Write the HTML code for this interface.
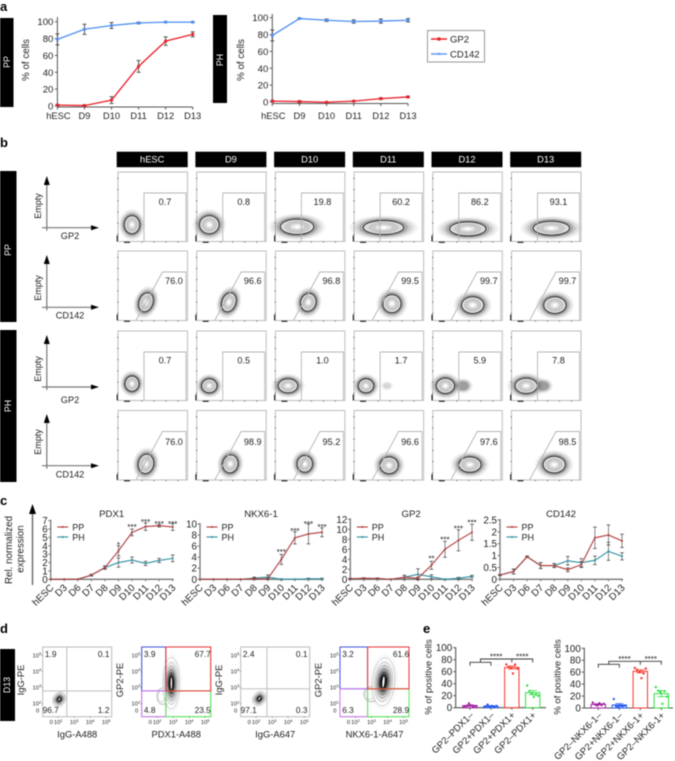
<!DOCTYPE html>
<html lang="en">
<head>
<meta charset="utf-8">
<title>Differentiation figure</title>
<style>
html,body{margin:0;padding:0;background:#fff}
body{width:675px;height:761px;overflow:hidden}
svg{display:block;font-family:"Liberation Sans",sans-serif;filter:blur(.4px)}
text{fill:#222}
.letter{font-weight:bold;font-size:13px;fill:#000}
.bar-text{fill:#fff;font-size:8.8px;text-anchor:middle}
</style>
</head>
<body>
<svg id="fig" width="675" height="761" viewBox="0 0 675 761" xmlns="http://www.w3.org/2000/svg">
<defs>
<radialGradient id="haloFill" cx="50%" cy="50%" r="50%">
<stop offset="0.5" stop-color="#666" stop-opacity="0.75"/>
<stop offset="0.72" stop-color="#888" stop-opacity="0.38"/>
<stop offset="1" stop-color="#aaa" stop-opacity="0"/>
</radialGradient>
</defs>
<rect x="0" y="0" width="675" height="761" fill="#fff"/>
<text class="letter" x="0" y="11">a</text>
<text class="letter" x="0" y="147">b</text>
<text class="letter" x="0" y="505">c</text>
<text class="letter" x="0" y="633">d</text>
<text class="letter" x="423" y="633">e</text>

<g>
<rect x="0" y="18" width="13.5" height="89" fill="#000"/>
<text class="bar-text" transform="translate(10,62) rotate(-90)">PP</text>
<rect x="213" y="15" width="14" height="88" fill="#000"/>
<text class="bar-text" transform="translate(223,60) rotate(-90)">PH</text>
</g>

<g>
<rect x="427.5" y="30.5" width="57" height="31.5" fill="#fff" stroke="#999" stroke-width="1"/>
<line x1="431" y1="39" x2="447" y2="39" stroke="#e8212a" stroke-width="1.5"/>
<circle cx="439" cy="39" r="1.8" fill="#e8212a"/>
<text x="450" y="42.5" font-size="9.5">GP2</text>
<line x1="431" y1="54" x2="447" y2="54" stroke="#4f8ef0" stroke-width="1.3"/>
<text x="439" y="56" font-size="6" text-anchor="middle" style="fill:#4f8ef0">×</text>
<text x="450" y="57.5" font-size="9.5">CD142</text>
</g>

<g>
<rect x="0" y="171" width="16.5" height="151" fill="#000"/>
<text class="bar-text" transform="translate(11,250) rotate(-90)">PP</text>
<rect x="0" y="330" width="16.5" height="152" fill="#000"/>
<text class="bar-text" transform="translate(11,406) rotate(-90)">PH</text>
</g>

<g>
<text transform="translate(12,550) rotate(-90)" font-size="9.8" text-anchor="middle">Rel. normalized</text>
<text transform="translate(23.5,549) rotate(-90)" font-size="9.8" text-anchor="middle">expression</text>
<line x1="32.5" y1="510" x2="32.5" y2="585" stroke="#666" stroke-width="1.4"/>
<polygon points="32.5,504 29,514 36,514" fill="#000"/>
</g>

<g>
<rect x="0" y="649" width="15" height="72" fill="#000"/>
<text class="bar-text" transform="translate(10,685) rotate(-90)">D13</text>
</g>
</svg>

<script>
// ---------- panel a data ----------
var aDays = ['hESC', 'D9', 'D10', 'D11', 'D12', 'D13'];
var aTicks = [0, 20, 40, 60, 80, 100];
var aPpGp2 = [1, 0.5, 7, 47, 77, 85];
var aPpGp2Err = [1, 1, 4, 7, 5, 3];
var aPpCd142 = [79, 91, 95.5, 98.5, 99.5, 99.5];
var aPpCd142Err = [6.5, 6, 3.5, 1, 0.5, 0.5];
var aPhGp2 = [1, 0.5, -0.3, 1, 4, 6];
var aPhGp2Err = [1, 1, 0.5, 0.5, 1, 1];
var aPhCd142 = [79, 99, 97, 95.5, 96, 97];
var aPhCd142Err = [6.5, 0.5, 1.5, 2, 2.5, 2];

// ---------- panel b data (axis percent of the flow plot) ----------
var flowColumns = ['hESC', 'D9', 'D10', 'D11', 'D12', 'D13'];
var flowRowNames = ['pp-gp2', 'pp-cd142', 'ph-gp2', 'ph-cd142'];
var flowPercent = [
  ['0.7', '0.8', '19.8', '60.2', '86.2', '93.1'],
  ['76.0', '96.6', '96.8', '99.5', '99.7', '99.7'],
  ['0.7', '0.5', '1.0', '1.7', '5.9', '7.8'],
  ['76.0', '98.9', '95.2', '96.6', '97.6', '98.5']
];
var flowCenterX = [
  [20, 18, 31, 42, 50, 57],
  [40, 46, 47, 54, 57, 62],
  [20, 18, 18, 17, 18, 21],
  [40, 48, 42, 50, 53, 61]
];
var flowCenterY = [
  [24, 24, 21, 20, 18, 19],
  [26, 26, 26, 24, 22, 22],
  [24, 21, 21, 21, 21, 21],
  [23, 23, 23, 21, 22, 22]
];
var flowSpreadX = [
  [11, 14, 24, 29, 26, 26],
  [10, 10, 11, 13, 16, 16],
  [10, 11, 14, 11, 13, 16],
  [11, 11, 11, 13, 16, 16]
];
var flowSpreadY = [
  [13, 13, 11, 10, 10, 10],
  [14, 14, 13, 13, 12, 12],
  [11, 10, 10, 10, 11, 11],
  [14, 13, 12, 12, 11, 12]
];
var flowTilt = [
  [0, 0, 0, 0, 0, 0],
  [20, 20, 15, 0, 0, 0],
  [0, 0, 0, 0, 0, 0],
  [10, 10, 0, 0, 0, 0]
];
var flowTailX = [0, 0, 0, 47, 43, 45];

// ---------- panel c data ----------
var cDays = ['hESC', 'D3', 'D6', 'D7', 'D8', 'D9', 'D10', 'D11', 'D12', 'D13'];
var pdx1Ticks = [0, 1, 2, 3, 4, 5, 6, 7];
var pdx1PP = [0, 0, 0, 0.5, 1.4, 3.4, 5.6, 6.3, 6.4, 6.25];
var pdx1PPErr = [0, 0, 0, 0.1, 0.2, 0.6, 0.4, 0.45, 0.15, 0.4];
var pdx1PH = [0, 0, 0, 0.5, 1.4, 2, 2.3, 1.9, 2.25, 2.5];
var pdx1PHErr = [0, 0, 0, 0.1, 0.15, 0.55, 0.35, 0.25, 0.25, 0.4];
var pdx1Stars = ['', '', '', '', '', '*', '***', '***', '***', '***'];
var pdx1StarLevel = [0, 0, 0, 0, 0, 4.3, 6.4, 7, 6.8, 6.8];
var nkxTicks = [0, 2, 4, 6, 8, 10];
var nkxPP = [0, 0, 0, 0, 0.1, 0.1, 3.6, 7.5, 8.2, 8.5];
var nkxPPErr = [0, 0, 0, 0, 0.1, 0.1, 0.9, 1.1, 1.8, 0.8];
var nkxPH = [0, 0, 0, 0, 0.2, 0.4, 0, 0, 0.1, 0.1];
var nkxPHErr = [0, 0, 0, 0, 0.2, 0.4, 0.1, 0.05, 0.1, 0.1];
var nkxStars = ['', '', '', '', '', '', '***', '***', '***', '***'];
var nkxStarLevel = [0, 0, 0, 0, 0, 0, 5.2, 9, 10.3, 9.7];
var gp2Ticks = [0, 2, 4, 6, 8, 10, 12];
var gp2PP = [0.1, 0.2, 0.15, 0, 0.4, 0.2, 2.8, 6, 7.8, 9.4];
var gp2PPErr = [0.1, 0.1, 0.1, 0, 0.4, 0.2, 0.8, 1.6, 2.1, 1.6];
var gp2PH = [0.1, 0.2, 0.15, 0, 0.4, 1, 0.5, 0, 0.2, 0.6];
var gp2PHErr = [0.1, 0.1, 0.1, 0, 0.4, 1.1, 0.4, 0.1, 0.2, 0.2];
var gp2Stars = ['', '', '', '', '', '', '**', '***', '***', '***'];
var gp2StarLevel = [0, 0, 0, 0, 0, 0, 4.5, 8.3, 10.5, 11.7];
var cd142Ticks = [0, 0.5, 1, 1.5, 2, 2.5];
var cd142PP = [0.18, 0.33, 0.95, 0.58, 0.58, 0.4, 0.62, 1.75, 1.87, 1.62];
var cd142PPErr = [0.02, 0.1, 0.03, 0.12, 0.08, 0.08, 0.12, 0.45, 0.42, 0.28];
var cd142PH = [0.18, 0.33, 0.95, 0.58, 0.58, 0.78, 0.7, 0.8, 1.18, 0.97];
var cd142PHErr = [0.02, 0.1, 0.03, 0.12, 0.08, 0.18, 0.17, 0.18, 0.38, 0.15];

// ---------- panel d data ----------
var dXTitles = ['IgG-A488', 'PDX1-A488', 'IgG-A647', 'NKX6-1-A647'];
var dYTitles = ['IgG-PE', 'GP2-PE', 'IgG-PE', 'GP2-PE'];
var dUpperLeft = ['1.9', '3.9', '2.4', '3.2'];
var dUpperRight = ['0.1', '67.7', '0.1', '61.6'];
var dLowerLeft = ['96.7', '4.8', '97.1', '6.3'];
var dLowerRight = ['1.2', '23.5', '0.3', '28.9'];
var dGateX = [35, 35, 38, 40];
var dGateY = [37, 37, 40, 40];
var dCloudX = [24, 43, 27, 63];
var dCloudY = [25, 48, 26, 50];
var dCloudSpreadX = [8, 11, 8, 15];
var dCloudSpreadY = [10, 34, 10, 32];
var dCloudTilt = [30, 0, 35, 5];
var dColoured = [false, true, false, true];
var dExponents = ['2', '3', '4', '5'];

// ---------- panel e data ----------
var pdxGroups = ['GP2–PDX1–', 'GP2+PDX1–', 'GP2+PDX1+', 'GP2–PDX1+'];
var nkxGroups = ['GP2–NKX6-1–', 'GP2+NKX6-1–', 'GP2+NKX6-1+', 'GP2–NKX6-1+'];
var groupColours = ['#a020a0', '#2255ee', '#f5362e', '#33dd44'];
var pctTicks = [0, 20, 40, 60, 80, 100];
var pdxMeans = [3.5, 2.5, 67, 25];
var pdxErrs = [1, 0.7, 2.5, 3.5];
var pdxDots = [[2, 3, 7, 4, 2, 3], [2, 5, 2, 3, 1, 3], [72, 68, 66, 57, 72, 65], [37, 28, 24, 18, 22, 20]];
var nkxMeans = [6, 5, 61.5, 24];
var nkxErrs = [1, 2.3, 2.5, 5];
var nkxDots = [[9, 6, 4, 8, 5, 7], [15, 3, 2, 4, 3, 4], [67, 64, 60, 50, 58, 66], [35, 29, 27, 7, 28, 19]];

// ---------- helpers ----------
var NS = 'http://www.w3.org/2000/svg';
var root = document.getElementById('fig');
function add(parent, tag, attrs, name, txt) {
  var el = document.createElementNS(NS, tag);
  for (var k in attrs) { el.setAttribute(k, attrs[k]); }
  
  
  if (txt !== undefined) { el.textContent = txt; }
  parent.appendChild(el);
  return el;
}
function line(p, x1, y1, x2, y2, col, w, name) {
  return add(p, 'line', {x1: x1, y1: y1, x2: x2, y2: y2, stroke: col, 'stroke-width': w}, name);
}
function text(p, x, y, s, size, anchor, name, extra) {
  var a = {x: x, y: y, 'font-size': size, 'text-anchor': anchor || 'start'};
  if (extra) { for (var k in extra) { a[k] = extra[k]; } }
  return add(p, 'text', a, name, s);
}
function group(p, name) { return add(p, 'g', {}, name); }
function linearScale(d0, d1, r0, r1) {
  return function (v) { return r0 + (v - d0) / (d1 - d0) * (r1 - r0); };
}
function slug(s) { return String(s).toLowerCase().replace(/[^a-z0-9]+/g, '-'); }

// ---------- panel a ----------
function drawLinePanel(name, x0, x1, y100, y0, axisTop, axisBottom, titleX, gp2, gp2Err, cd, cdErr) {
  var g = group(root, name);
  var sx = linearScale(0, aDays.length - 1, x0, x1);
  var sy = linearScale(0, 100, y0, y100);
  line(g, x0, axisTop, x0, axisBottom, '#555', 1, 'y-axis');
  line(g, x0, axisBottom, x1, axisBottom, '#555', 1, 'x-axis');
  aTicks.forEach(function (t) {
    line(g, x0 - 2.5, sy(t), x0, sy(t), '#555', 1, 'y-tick');
    text(g, x0 - 4, sy(t) + 3.5, t, 9.6, 'end', 'y-tick-label-' + t);
  });
  aDays.forEach(function (d, i) {
    line(g, sx(i), axisBottom, sx(i), axisBottom + 2.5, '#555', 1, 'x-tick');
    text(g, sx(i) + (i === 0 ? 1 : 0), 119, d, 9.3, 'middle', 'x-tick-label-' + slug(d));
  });
  text(g, 0, 0, '% of cells', 9.8, 'middle', 'y-axis-title', {transform: 'translate(' + titleX + ',60) rotate(-90)'});
  [[cd, cdErr, '#4f8ef0', 'cd142'], [gp2, gp2Err, '#e8212a', 'gp2']].forEach(function (s) {
    var sg = group(g, 'series-' + s[3]);
    s[0].forEach(function (v, i) {
      var h = s[1][i];
      line(sg, sx(i), sy(v - h), sx(i), sy(v + h), '#333', 0.8, 'error-bar');
      line(sg, sx(i) - 2, sy(v - h), sx(i) + 2, sy(v - h), '#333', 0.8, 'error-cap');
      line(sg, sx(i) - 2, sy(v + h), sx(i) + 2, sy(v + h), '#333', 0.8, 'error-cap');
    });
    var pts = s[0].map(function (v, i) { return sx(i) + ',' + sy(v); }).join(' ');
    add(sg, 'polyline', {points: pts, fill: 'none', stroke: s[2], 'stroke-width': 1.3}, 'series-line');
    s[0].forEach(function (v, i) {
      add(sg, 'circle', {cx: sx(i), cy: sy(v), r: 1.6, fill: s[2]}, 'point-' + slug(aDays[i]));
    });
  });
}
drawLinePanel('pp-cell-chart', 57.4, 192.7, 21.7, 106, 17, 107, 29, aPpGp2, aPpGp2Err, aPpCd142, aPpCd142Err);
drawLinePanel('ph-cell-chart', 272.3, 408, 17.7, 102, 14, 103.5, 244, aPhGp2, aPhGp2Err, aPhCd142, aPhCd142Err);

// ---------- panel b ----------
var panelW = 69.5;
var colStart = 118, colStep = 78.7;
var rowTop = [172, 251, 331, 410.5];
var panelH = 69.5;

function stack(g, cx, cy, rx, ry, tilt) {
  var tf = 'rotate(' + tilt + ' ' + cx + ' ' + cy + ')';
  function e(f, fill, stroke, w, dash, op, nm) {
    var a = {cx: cx, cy: cy, rx: rx * f, ry: ry * f, fill: fill, stroke: stroke, 'stroke-width': w, transform: tf};
    if (dash) { a['stroke-dasharray'] = dash; }
    if (op) { a.opacity = op; }
    return add(g, 'ellipse', a, nm);
  }
  e(1.75, 'url(#haloFill)', 'none', 0, null, null, 'scatter-cloud');
  e(1.62, 'none', '#555', 0.4, '0.4 2.1', 0.45, 'scatter-halo');
  e(1.45, 'none', '#444', 0.45, '0.45 1.5', 0.6, 'scatter-halo');
  e(1.3, 'none', '#333', 0.5, '0.5 1.1', 0.8, 'scatter-halo');
  e(1.16, 'none', '#222', 0.6, '0.6 0.8', 0.9, 'scatter-halo');
  e(1, '#dcdcdc', '#2c2c2c', 1, null, null, 'outer-contour');
  e(0.72, '#cacaca', '#ababab', 0.4, null, null, 'mid-contour');
  e(0.42, '#e6e6e6', '#bbb', 0.3, null, null, 'inner-contour');
  e(0.18, '#fff', 'none', 0, null, null, 'core-contour');
}
flowColumns.forEach(function (c, i) {
  var hx = colStart - 1.3 + i * colStep;
  add(root, 'rect', {x: hx, y: 151.7, width: 71, height: 15.5, fill: '#000'}, 'column-header-' + slug(c));
  text(root, hx + 35.5, 162.7, c, 9.3, 'middle', 'column-header-label-' + slug(c), {style: 'fill:#fff'});
});
flowRowNames.forEach(function (rowName, r) {
  var y0 = rowTop[r];
  var rowG = group(root, 'flow-row-' + rowName);
  flowColumns.forEach(function (c, i) {
    var x0 = colStart + i * colStep;
    var sx = linearScale(0, 100, x0, x0 + 70);
    var sy = linearScale(0, 100, y0 + panelH, y0 - 0.5);
    var g = group(rowG, 'flow-plot-' + rowName + '-' + slug(c));
    add(g, 'rect', {x: x0, y: y0, width: panelW, height: panelH, fill: '#fff', stroke: '#bdbdbd', 'stroke-width': 1}, 'plot-frame');
    for (var t = 1; t <= 6; t++) {
      line(g, x0 - 0.8, y0 + panelH - t * 11.2 + 4, x0 + 0.5, y0 + panelH - t * 11.2 + 4, '#333', 0.6, 'y-tick');
    }
    line(g, x0 - 0.8, y0 + panelH - 6, x0 - 0.8, y0 + panelH, '#000', 1, 'y-tick-dense');
    line(g, x0 + 6, y0 + panelH + 0.8, x0 + 12, y0 + panelH + 0.8, '#000', 1, 'x-tick-dense');
    for (var u = 1; u <= 4; u++) {
      line(g, x0 + 12 + u * 12, y0 + panelH, x0 + 12 + u * 12, y0 + panelH + 1.3, '#333', 0.6, 'x-tick');
    }
    if (r === 2 && flowTailX[i] > 0) {
      var tailR = i === 3 ? 5 : 8;
      add(g, 'ellipse', {cx: sx(flowTailX[i]), cy: sy(flowCenterY[r][i]), rx: tailR * 1.3, ry: tailR, fill: 'url(#haloFill)', opacity: i === 3 ? 0.35 : 0.85}, 'scatter-tail');
    }
    stack(g, sx(flowCenterX[r][i]), sy(flowCenterY[r][i]), flowSpreadX[r][i] * 0.7, flowSpreadY[r][i] * 0.7, flowTilt[r][i]);
    var bottom = y0 + panelH, top = y0 + 21, right = x0 + 68, pts;
    if (r % 2 === 0) {
      pts = (x0 + 26) + ',' + bottom + ' ' + (x0 + 26) + ',' + top + ' ' + right + ',' + top + ' ' + right + ',' + bottom;
    } else {
      pts = (x0 + 18) + ',' + bottom + ' ' + (x0 + 44.5) + ',' + top + ' ' + right + ',' + top + ' ' + right + ',' + bottom;
    }
    add(g, 'polyline', {points: pts, fill: 'none', stroke: '#b5b5b5', 'stroke-width': 0.9}, 'gate');
    var lx = r % 2 === 0 ? 47 : 56;
    var ly = [33, 33, 32.5, 34.5][r];
    text(g, x0 + lx, y0 + ly, flowPercent[r][i], 9.1, 'middle', 'gate-percent');
  });
});
// schematic axes
var schemaTips = [176, 255, 335, 414];
var schemaH = [227.7, 307.3, 387, 465.7];
var schemaEmpty = [206, 288, 369, 442];
var schemaLabelY = [239, 318.5, 403, 477.5];
var schemaLabels = ['GP2', 'CD142', 'GP2', 'CD142'];
schemaLabels.forEach(function (lab, i) {
  var g = group(root, 'schematic-axes-' + flowRowNames[i]);
  line(g, 46.8, schemaTips[i] + 5, 46.8, schemaH[i] + 3, '#777', 1.2, 'schematic-y-axis');
  line(g, 42, schemaH[i], 93, schemaH[i], '#777', 1.2, 'schematic-x-axis');
  add(g, 'polygon', {points: '46.8,' + schemaTips[i] + ' 43.8,' + (schemaTips[i] + 9) + ' 49.8,' + (schemaTips[i] + 9), fill: '#000'}, 'schematic-y-arrow');
  add(g, 'polygon', {points: '99,' + schemaH[i] + ' 91,' + (schemaH[i] - 2.5) + ' 91,' + (schemaH[i] + 2.5), fill: '#000'}, 'schematic-x-arrow');
  text(g, 0, 0, 'Empty', 9, 'middle', 'schematic-y-label', {transform: 'translate(41,' + schemaEmpty[i] + ') rotate(-90)'});
  text(g, 70, schemaLabelY[i], lab, 9.2, 'middle', 'schematic-x-label');
});

// ---------- panel c ----------
function drawExpression(name, title, x0, x1, yTopVal, yTopPx, ticks, pp, ppErr, ph, phErr, stars, starLevel) {
  var g = group(root, name);
  var baseY = 579.3;
  var sx = linearScale(0, cDays.length - 1, x0, x1);
  var sy = linearScale(0, yTopVal, baseY, yTopPx);
  line(g, x0, yTopPx - 1, x0, baseY + 1, '#777', 1.3, 'y-axis');
  line(g, x0, baseY, x1 + 1, baseY, '#777', 1.3, 'x-axis');
  ticks.forEach(function (t) {
    line(g, x0 - 2.5, sy(t), x0, sy(t), '#777', 1, 'y-tick');
    text(g, x0 - 3, sy(t) + 3.5, t, 9.8, 'end', 'y-tick-label-' + slug(t));
  });
  cDays.forEach(function (d, i) {
    line(g, sx(i), baseY, sx(i), baseY + 2, '#777', 1, 'x-tick');
    text(g, 0, 0, d, 9.8, 'end', 'x-tick-label-' + slug(d), {transform: 'translate(' + (sx(i) + 3.5) + ',' + (baseY + 9) + ') rotate(-45)'});
  });
  text(g, (x0 + x1) / 2, 517, title, 9.6, 'middle', 'chart-title');
  [[ph, phErr, '#2e8fa0', 'ph'], [pp, ppErr, '#b03a3a', 'pp']].forEach(function (s) {
    var sg = group(g, 'series-' + s[3]);
    s[0].forEach(function (v, i) {
      var h = s[1][i];
      if (h <= 0) { return; }
      line(sg, sx(i), sy(v - h), sx(i), sy(v + h), '#666', 0.8, 'error-bar');
      line(sg, sx(i) - 1.8, sy(v - h), sx(i) + 1.8, sy(v - h), '#333', 0.7, 'error-cap');
      line(sg, sx(i) - 1.8, sy(v + h), sx(i) + 1.8, sy(v + h), '#333', 0.7, 'error-cap');
    });
    var pts = s[0].map(function (v, i) { return sx(i) + ',' + sy(v); }).join(' ');
    add(sg, 'polyline', {points: pts, fill: 'none', stroke: s[2], 'stroke-width': 1.1}, 'series-line');
    s[0].forEach(function (v, i) {
      add(sg, 'circle', {cx: sx(i), cy: sy(v), r: 1, fill: s[2]}, 'point-' + slug(cDays[i]));
    });
  });
  stars.forEach(function (st, i) {
    if (st) { text(g, sx(i), sy(starLevel[i]) + 4.5, st, 8, 'middle', 'significance-' + slug(cDays[i])); }
  });
  var lg = group(g, 'legend');
  var lx = x0 + 6.5;
  line(lg, lx, 527, lx + 11, 527, '#b03a3a', 1.1, 'legend-pp-line');
  add(lg, 'circle', {cx: lx + 5.5, cy: 527, r: 1, fill: '#b03a3a'}, 'legend-pp-marker');
  text(lg, lx + 15, 530.3, 'PP', 9, 'start', 'legend-pp-label');
  line(lg, lx, 537, lx + 11, 537, '#2e8fa0', 1.1, 'legend-ph-line');
  add(lg, 'circle', {cx: lx + 5.5, cy: 537, r: 1, fill: '#2e8fa0'}, 'legend-ph-marker');
  text(lg, lx + 15, 540.3, 'PH', 9, 'start', 'legend-ph-label');
}
drawExpression('pdx1-chart', 'PDX1', 50.7, 172.7, 7, 520.7, pdx1Ticks, pdx1PP, pdx1PPErr, pdx1PH, pdx1PHErr, pdx1Stars, pdx1StarLevel);
drawExpression('nkx6-1-chart', 'NKX6-1', 200, 322, 10, 524, nkxTicks, nkxPP, nkxPPErr, nkxPH, nkxPHErr, nkxStars, nkxStarLevel);
drawExpression('gp2-chart', 'GP2', 350.3, 472, 12, 519.3, gp2Ticks, gp2PP, gp2PPErr, gp2PH, gp2PHErr, gp2Stars, gp2StarLevel);
drawExpression('cd142-chart', 'CD142', 500, 622, 2.5, 520, cd142Ticks, cd142PP, cd142PPErr, cd142PH, cd142PHErr, [], []);

// ---------- panel d ----------
var dLeft = [42.7, 141.7, 240.7, 340];
var dTop = 647, dW = 69, dH = 69.7;
function supLabel(p, x, y, exp, anchor, name) {
  var t = text(p, x, y, '10', 5.8, anchor, name);
  add(t, 'tspan', {dy: -2.4, 'font-size': 4}, 'tick-exponent', exp);
  return t;
}
dXTitles.forEach(function (title, i) {
  var g = group(root, 'flow-quadrant-' + slug(title));
  var x0 = dLeft[i];
  var sx = linearScale(0, 100, x0, x0 + dW);
  var sy = linearScale(0, 100, dTop + dH, dTop);
  var gx = sx(dGateX[i]), gy = sy(dGateY[i]);
  add(g, 'rect', {x: x0, y: dTop, width: dW, height: dH, fill: '#fff', stroke: '#bbb', 'stroke-width': 1}, 'plot-frame');
  var cx = sx(dCloudX[i]), cy = sy(dCloudY[i]);
  var rx = dCloudSpreadX[i] * dW / 100, ry = dCloudSpreadY[i] * dH / 100;
  var rot = 'rotate(' + dCloudTilt[i] + ' ' + cx + ' ' + cy + ')';
  add(g, 'ellipse', {cx: cx, cy: cy, rx: rx * 1.5, ry: ry * 1.35, fill: 'url(#haloFill)', opacity: 0.35, transform: rot}, 'scatter-halo');
  if (dColoured[i]) {
    add(g, 'ellipse', {cx: cx - rx * 1.15, cy: cy + ry * 0.55, rx: rx * 0.75, ry: ry * 0.34, fill: 'none', stroke: '#999', 'stroke-width': 0.6}, 'low-contour');
    add(g, 'ellipse', {cx: cx - rx * 1.3, cy: cy + ry * 0.55, rx: rx * 0.45, ry: ry * 0.24, fill: 'none', stroke: '#aaa', 'stroke-width': 0.5}, 'low-contour');
  }
  [[1.08, '#fff', '#999'], [0.9, '#ececec', '#888'], [0.74, '#cfcfcf', '#777'], [0.6, '#999', '#666'], [0.46, '#555', '#444'], [0.32, '#111', '#111']].forEach(function (c) {
    add(g, 'ellipse', {cx: cx, cy: cy, rx: rx * c[0], ry: ry * c[0], fill: c[1], stroke: c[2], 'stroke-width': 0.4, transform: rot}, 'density-contour');
  });
  add(g, 'ellipse', {cx: cx, cy: cy, rx: rx * 0.1, ry: ry * 0.26, fill: '#fff', transform: rot}, 'density-core');
  if (dColoured[i]) {
    add(g, 'rect', {x: x0, y: dTop, width: gx - x0, height: gy - dTop, fill: 'none', stroke: '#4455dd', 'stroke-width': 1}, 'gate-upper-left');
    add(g, 'rect', {x: x0, y: gy, width: gx - x0, height: dTop + dH - gy, fill: 'none', stroke: '#cc77ee', 'stroke-width': 1}, 'gate-lower-left');
    add(g, 'rect', {x: gx, y: gy, width: x0 + dW - gx, height: dTop + dH - gy, fill: 'none', stroke: '#55ee55', 'stroke-width': 1}, 'gate-lower-right');
    add(g, 'rect', {x: gx, y: dTop, width: x0 + dW - gx, height: gy - dTop, fill: 'none', stroke: '#ee3333', 'stroke-width': 1}, 'gate-upper-right');
  } else {
    line(g, gx, dTop, gx, dTop + dH, '#c4c4c4', 1.1, 'quadrant-vertical');
    line(g, x0, gy, x0 + dW, gy, '#c4c4c4', 1.1, 'quadrant-horizontal');
  }
  text(g, x0 + 8, dTop + 10, dUpperLeft[i], 8.3, 'middle', 'upper-left-percent');
  text(g, x0 + dW - 8, dTop + 10, dUpperRight[i], 8.3, 'middle', 'upper-right-percent');
  text(g, x0 + 8, dTop + dH - 3.5, dLowerLeft[i], 8.3, 'middle', 'lower-left-percent');
  text(g, x0 + dW - 8, dTop + dH - 3.5, dLowerRight[i], 8.3, 'middle', 'lower-right-percent');
  dExponents.forEach(function (e, k) {
    var px = x0 + 15.5 + k * 16;
    supLabel(g, px, dTop + dH + 7.5, e, 'middle', 'x-tick-label-10-' + e);
    line(g, px, dTop + dH, px, dTop + dH + 1.2, '#666', 0.6, 'x-tick');
    var py = dTop + dH - 13 - k * 16.1;
    supLabel(g, x0 - 1.5, py + 2, e, 'end', 'y-tick-label-10-' + e);
    line(g, x0 - 1.2, py, x0, py, '#666', 0.6, 'y-tick');
  });
  text(g, x0 + 8.5, dTop + dH + 7.5, '0', 5.8, 'middle', 'x-tick-label-0');
  text(g, x0 - 3.5, dTop + dH - 4, '0', 5.8, 'end', 'y-tick-label-0');
  text(g, x0 + 34.5, 737.7, title, 9.4, 'middle', 'x-axis-title');
  text(g, 0, 0, dYTitles[i], 9.4, 'middle', 'y-axis-title', {transform: 'translate(' + (x0 - 18.5) + ',680) rotate(-90)'});
});

// ---------- panel e ----------
function drawBars(name, x0, x1, y100, y0, firstBar, barStep, groups, means, errs, dots, bracket) {
  var g = group(root, name);
  var sy = linearScale(0, 100, y0, y100);
  var sx = function (i) { return firstBar + i * barStep; };
  line(g, x0, y100 - 0.5, x0, y0 + 0.5, '#555', 1.1, 'y-axis');
  line(g, x0, y0, x1, y0, '#555', 1.1, 'x-axis');
  pctTicks.forEach(function (t) {
    line(g, x0 - 2.5, sy(t), x0, sy(t), '#555', 1, 'y-tick');
    text(g, x0 - 3.5, sy(t) + 3.5, t, 9.8, 'end', 'y-tick-label-' + t);
  });
  text(g, 0, 0, '% of positive cells', 9.5, 'middle', 'y-axis-title', {transform: 'translate(' + (x0 - 24) + ',677) rotate(-90)'});
  groups.forEach(function (n, i) {
    var bw = 14.4;
    var bg = group(g, 'bar-group-' + slug(n));
    add(bg, 'rect', {x: sx(i) - bw / 2, y: sy(means[i]), width: bw, height: y0 - sy(means[i]), fill: '#fff', stroke: groupColours[i], 'stroke-width': 1}, 'bar');
    line(bg, sx(i), sy(means[i] - errs[i]), sx(i), sy(means[i] + errs[i]), groupColours[i], 0.8, 'error-bar');
    line(bg, sx(i) - 4, sy(means[i] - errs[i]), sx(i) + 4, sy(means[i] - errs[i]), groupColours[i], 0.8, 'error-cap');
    line(bg, sx(i) - 4, sy(means[i] + errs[i]), sx(i) + 4, sy(means[i] + errs[i]), groupColours[i], 0.8, 'error-cap');
    dots[i].forEach(function (v, k) {
      var off = (k - (dots[i].length - 1) / 2) * 2.2;
      add(bg, 'circle', {cx: sx(i) + off, cy: sy(v), r: 1.2, fill: groupColours[i]}, 'replicate-dot');
    });
    line(bg, sx(i), y0, sx(i), y0 + 2, '#555', 1, 'x-tick');
    text(bg, 0, 0, n, 9.5, 'end', 'x-tick-label-' + slug(n), {transform: 'translate(' + (sx(i) + 4) + ',' + (y0 + 8) + ') rotate(-45)'});
  });
  var bg2 = group(g, 'significance-brackets');
  var a = sx(0), b = sx(1), c = sx(2), d = sx(3), mid = (a + b) / 2;
  var lo = bracket.lo, hi = bracket.hi;
  add(bg2, 'polyline', {points: a + ',' + (lo + 3.5) + ' ' + a + ',' + lo + ' ' + b + ',' + lo + ' ' + b + ',' + (lo + 3.5), fill: 'none', stroke: '#333', 'stroke-width': 0.9}, 'bracket-negative-groups');
  add(bg2, 'polyline', {points: mid + ',' + lo + ' ' + mid + ',' + hi + ' ' + d + ',' + hi + ' ' + d + ',' + (hi + 3.5), fill: 'none', stroke: '#333', 'stroke-width': 0.9}, 'bracket-span');
  line(bg2, c, hi, c, hi + 3.5, '#333', 0.9, 'bracket-stem');
  text(bg2, (mid + c) / 2, hi + 0.5, '****', 8, 'middle', 'significance-left');
  text(bg2, (c + d) / 2, hi + 0.5, '****', 8, 'middle', 'significance-right');
}
drawBars('pdx1-percent-chart', 455.7, 546, 647.7, 707.7, 470, 20.9, pdxGroups, pdxMeans, pdxErrs, pdxDots, {lo: 662.3, hi: 659});
drawBars('nkx6-1-percent-chart', 584.3, 673, 648.3, 708, 598.3, 21, nkxGroups, nkxMeans, nkxErrs, nkxDots, {lo: 664.3, hi: 661.3});
</script>
</body>
</html>
